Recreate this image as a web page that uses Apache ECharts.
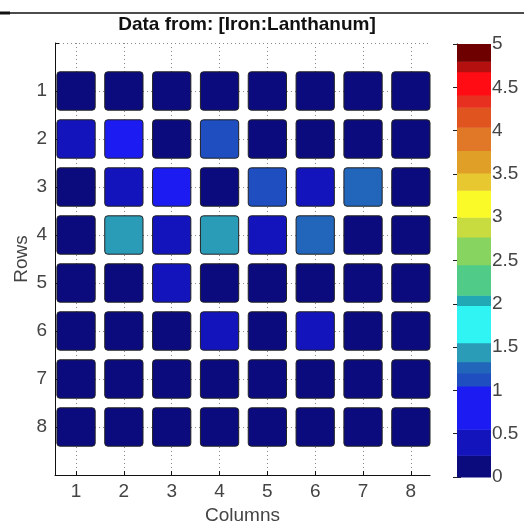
<!DOCTYPE html>
<html><head><meta charset="utf-8">
<script src="https://cdn.jsdelivr.net/npm/echarts@6/dist/echarts.min.js"></script>
<style>html,body{margin:0;padding:0;background:#fff}#c{width:524px;height:525px}</style>
</head><body><div id="c"></div>
<script>
// ---- data ----
const titleText = 'Data from: [Iron:Lanthanum]';
const colLabels = ['1','2','3','4','5','6','7','8'];
const rowLabels = ['1','2','3','4','5','6','7','8'];
const row1 = [0.1, 0.1, 0.1, 0.1, 0.1, 0.1, 0.1, 0.1];
const row2 = [0.4, 0.8, 0.1, 1.1, 0.1, 0.1, 0.1, 0.1];
const row3 = [0.1, 0.4, 0.8, 0.05, 1.1, 0.45, 1.25, 0.1];
const row4 = [0.1, 1.45, 0.4, 1.45, 0.45, 1.25, 0.1, 0.1];
const row5 = [0.1, 0.1, 0.4, 0.1, 0.1, 0.1, 0.1, 0.1];
const row6 = [0.1, 0.1, 0.1, 0.45, 0.1, 0.45, 0.1, 0.1];
const row7 = [0.1, 0.1, 0.1, 0.1, 0.1, 0.1, 0.1, 0.1];
const row8 = [0.1, 0.1, 0.1, 0.1, 0.1, 0.1, 0.1, 0.1];
const rows = [row1, row2, row3, row4, row5, row6, row7, row8];
// stepped colormap: lower bounds of each band (last = top of scale)
const cmapBreaks = [0, 0.25, 0.55, 1.05, 1.2, 1.33, 1.55, 1.98, 2.1, 2.45, 2.77, 3.0, 3.31, 3.51, 3.77, 4.04, 4.27, 4.41, 4.68, 4.8, 5.0];
const cmapColors = ['#0b0b7e', '#1414bc', '#1c1cf2', '#1e4ec0', '#2266bc', '#2a9cb8', '#30f4f4', '#22a8b4', '#50cc88', '#88d460', '#c8dc40', '#fafa28', '#e8c830', '#e0a028', '#e07828', '#e05420', '#e83020', '#ff0c14', '#b41010', '#6e0000'];
const colorbarTicks = [0, 0.5, 1, 1.5, 2, 2.5, 3, 3.5, 4, 4.5, 5];

// ---- build ----
const cellData = [];
rows.forEach((r, ri) => r.forEach((v, ci) => cellData.push([ci + 1, ri + 1, v])));
const pieces = cmapColors.map((c, i) => ({ gte: cmapBreaks[i], lt: cmapBreaks[i + 1] + (i === cmapColors.length - 1 ? 1e-9 : 0), color: c }));
const barData = cmapColors.map((c, i) => [cmapBreaks[i], cmapBreaks[i + 1], i]);
const FONT = "'Liberation Sans', Arial, sans-serif";
const tickVals = colLabels.map((_, i) => i + 1);
const LBL = { fontFamily: FONT, fontSize: 19, color: '#444' };

const chart = echarts.init(document.getElementById('c'), null, { renderer: 'canvas' });
chart.setOption({
  backgroundColor: '#fff',
  animation: false,
  title: { text: titleText, left: 242, top: 10, textAlign: 'center',
    textStyle: { fontFamily: FONT, fontSize: 19, fontWeight: 'bold', color: '#111' } },
  graphic: [
    { type: 'line', shape: { x1: 0, y1: 13, x2: 524, y2: 13 }, style: { stroke: '#111', lineWidth: 1.5 } },
    { type: 'rect', shape: { x: 0, y: 11.5, width: 10, height: 3 }, style: { fill: '#111' } }
  ],
  grid: [
    { left: 55, top: 43, width: 375, height: 432, outerBoundsMode: 'none', containLabel: false },
    { left: 457, top: 44, width: 34, height: 433, outerBoundsMode: 'none', containLabel: false }
  ],
  visualMap: [{ type: 'piecewise', show: false, dimension: 2, seriesIndex: 0, pieces: pieces }],
  xAxis: [
    { gridIndex: 0, type: 'value', min: 0.56, max: 8.4,
      name: 'Columns', nameLocation: 'middle', nameGap: 30,
      nameTextStyle: LBL,
      axisLine: { show: true, onZero: false, lineStyle: { color: '#111', width: 1 } },
      axisTick: { show: true, inside: true, length: 4, customValues: tickVals, lineStyle: { color: '#111' } },
      axisLabel: Object.assign({ customValues: tickVals, formatter: v => colLabels[v - 1], margin: 7 }, LBL),
      splitLine: { show: true, lineStyle: { type: [1, 3], color: '#888', width: 1 } } },
    { gridIndex: 1, type: 'value', min: 0, max: 1, show: false }
  ],
  yAxis: [
    { gridIndex: 0, type: 'value', inverse: true, min: 0, max: 9, interval: 1,
      name: 'Rows', nameLocation: 'middle', nameGap: 24, nameRotate: 90, nameMoveOverlap: false,
      nameTextStyle: LBL,
      axisLine: { show: true, onZero: false, lineStyle: { color: '#111', width: 1 } },
      axisTick: { show: true, inside: true, length: 4, lineStyle: { color: '#111' } },
      axisLabel: Object.assign({ formatter: v => (v >= 1 && v <= 8 ? rowLabels[v - 1] : ''), margin: 8 }, LBL),
      splitLine: { show: true, lineStyle: { type: [1, 3], color: '#888', width: 1 } } },
    { gridIndex: 1, type: 'value', position: 'right', min: 0, max: 5, interval: 0.5,
      axisLine: { show: true, lineStyle: { color: '#555', width: 1 } },
      axisTick: { show: true, inside: true, length: 4, lineStyle: { color: '#222' } },
      axisLabel: Object.assign({ margin: 1 }, LBL),
      splitLine: { show: false } },
    { gridIndex: 1, type: 'value', position: 'left', min: 0, max: 5, interval: 0.5,
      axisLine: { show: true, lineStyle: { color: '#555', width: 1 } },
      axisTick: { show: true, inside: true, length: 4, lineStyle: { color: '#222' } },
      axisLabel: { show: false }, splitLine: { show: false } }
  ],
  series: [
    { type: 'custom', xAxisIndex: 0, yAxisIndex: 0, data: cellData, encode: { x: 0, y: 1 }, z: 5,
      renderItem: (params, api) => {
        const c = api.coord([api.value(0), api.value(1)]);
        const s = api.size([0.8, 0.8]);
        return { type: 'rect', shape: { x: c[0] - s[0] / 2, y: c[1] - s[1] / 2, width: s[0], height: s[1], r: 3 },
          style: { fill: api.visual('color'), stroke: '#222', lineWidth: 1 } };
      } },
    { type: 'custom', xAxisIndex: 1, yAxisIndex: 1, data: barData, encode: { y: [0, 1] }, z: 1,
      renderItem: (params, api) => {
        const p0 = api.coord([0, api.value(0)]);
        const p1 = api.coord([1, api.value(1)]);
        return { type: 'rect', shape: { x: p0[0], y: p1[1], width: p1[0] - p0[0], height: p0[1] - p1[1] + 0.5 },
          style: { fill: cmapColors[api.value(2)] } };
      } }
  ]
});
</script></body></html>
